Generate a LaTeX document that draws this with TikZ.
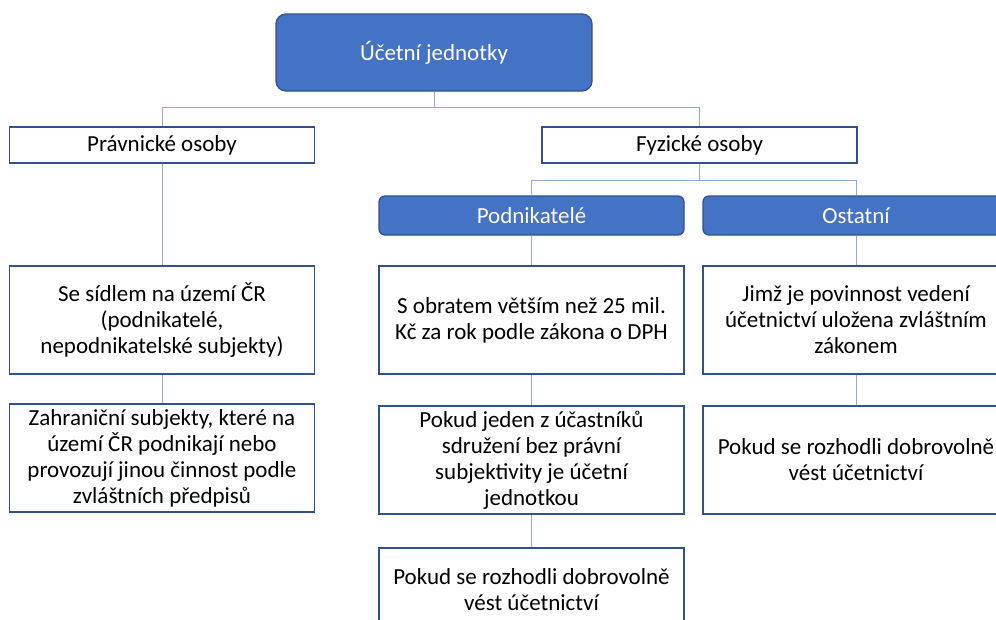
\documentclass[tikz,border=0pt]{standalone}
\usepackage{fontspec}
\setmainfont{Carlito}
\usepackage{tikz}
\usetikzlibrary{positioning}
\definecolor{boxfill}{HTML}{4472C4}
\definecolor{boxedge}{HTML}{2F528F}
\definecolor{linkcol}{HTML}{8FAADC}

\begin{document}
\begin{tikzpicture}[x=1pt, y=-1pt, font=\fontsize{23}{26}\selectfont,
		bluebox/.style={draw=boxedge, fill=boxfill, text=white, line width=1.3pt, rounded corners=6pt, align=center, inner sep=0pt},
		plainbox/.style={draw=boxedge, fill=white, line width=1.3pt, align=center, inner sep=0pt},
		link/.style={draw=linkcol, line width=0.9pt}]
		\def\bw{305}\def\bh{108}
		\useasboundingbox (0,0) rectangle (996,619);
		\clip (0,0) rectangle (996,619);
		% top levels
		\node[bluebox, rounded corners=10pt, minimum width=316, minimum height=77] (root) at (434,52.5) {Účetní jednotky};
		\node[plainbox, minimum width=\bw, minimum height=36] (pravnicke) at (162,145) {Právnické osoby};
		\node[plainbox, minimum width=315, minimum height=36] (fyzicke) at (699.5,145) {Fyzické osoby};
		\node[bluebox, minimum width=\bw, minimum height=39] (podnik) at (531.5,215.5) {Podnikatelé};
		\node[bluebox, minimum width=306, minimum height=39] (ostatni) at (856,215.5) {Ostatní};
		% legal persons
		\node[plainbox, minimum width=\bw, minimum height=\bh] (sidlem) at (162,320) {Se sídlem na území ČR\\(podnikatelé,\\nepodnikatelské subjekty)};
		\node[plainbox, minimum width=\bw, minimum height=\bh] (zahranicni) at (162,458) {Zahraniční subjekty, které na\\území ČR podnikají nebo\\provozují jinou činnost podle\\zvláštních předpisů};
		% entrepreneurs
		\node[plainbox, minimum width=\bw, minimum height=\bh] (obratem) at (531.5,320) {S obratem větším než 25 mil.\\Kč za rok podle zákona o DPH};
		\node[plainbox, minimum width=\bw, minimum height=\bh] (sdruzeni) at (531.5,460) {Pokud jeden z účastníků\\sdružení bez právní\\subjektivity je účetní\\jednotkou};
		\node[plainbox, minimum width=\bw, minimum height=84] (dobro1) at (531.5,590) {Pokud se rozhodli dobrovolně\\vést účetnictví};
		% others
		\node[plainbox, minimum width=306, minimum height=\bh] (jimz) at (856,320) {Jimž je povinnost vedení\\účetnictví uložena zvláštním\\zákonem};
		\node[plainbox, minimum width=306, minimum height=\bh] (dobro2) at (856,460) {Pokud se rozhodli dobrovolně\\vést účetnictví};
		% connectors
		\draw[link] (root.south) -- ++(0,16) -| (pravnicke.north);
		\draw[link] (root.south) -- ++(0,16) -| (fyzicke.north);
		\draw[link] (fyzicke.south) -- ++(0,17) -| (podnik.north);
		\draw[link] (fyzicke.south) -- ++(0,17) -| (ostatni.north);
		\draw[link] (pravnicke.south) -- (sidlem.north);
		\draw[link] (sidlem.south) -- (zahranicni.north);
		\draw[link] (podnik.south) -- (obratem.north);
		\draw[link] (obratem.south) -- (sdruzeni.north);
		\draw[link] (sdruzeni.south) -- (dobro1.north);
		\draw[link] (ostatni.south) -- (jimz.north);
		\draw[link] (jimz.south) -- (dobro2.north);
	\end{tikzpicture}
\end{document}
